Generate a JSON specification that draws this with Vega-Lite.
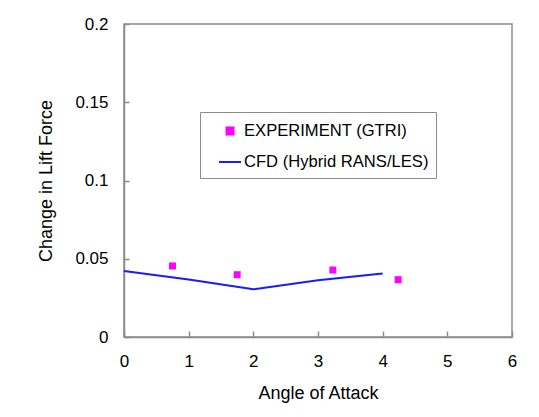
{
  "$schema": "https://vega.github.io/schema/vega-lite/v6.json",
  "width": 388,
  "height": 313,
  "autosize": {"type": "none"},
  "padding": {"left": 124, "top": 24, "right": 27, "bottom": 80},
  "background": "white",
  "config": {
    "font": "Liberation Sans",
    "view": {"stroke": "#8c8c8c", "strokeWidth": 1.5},
    "axis": {
      "grid": false,
      "domainColor": "#8c8c8c",
      "domainWidth": 1.5,
      "tickColor": "#8c8c8c",
      "tickWidth": 1.5,
      "labelColor": "black",
      "titleColor": "black",
      "labelFont": "Liberation Sans",
      "titleFont": "Liberation Sans",
      "labelFontSize": 17,
      "titleFontSize": 18,
      "titleFontWeight": "normal",
      "labelFlush": false
    }
  },
  "datasets": {
    "exp": [
      {"angle": 0.75, "lift": 0.0454, "series": "EXPERIMENT (GTRI)"},
      {"angle": 1.75, "lift": 0.0398, "series": "EXPERIMENT (GTRI)"},
      {"angle": 3.23, "lift": 0.0428, "series": "EXPERIMENT (GTRI)"},
      {"angle": 4.24, "lift": 0.0366, "series": "EXPERIMENT (GTRI)"}
    ],
    "cfd": [
      {"angle": 0, "lift": 0.0422, "series": "CFD (Hybrid RANS/LES)"},
      {"angle": 1, "lift": 0.0368, "series": "CFD (Hybrid RANS/LES)"},
      {"angle": 2, "lift": 0.0305, "series": "CFD (Hybrid RANS/LES)"},
      {"angle": 3, "lift": 0.0362, "series": "CFD (Hybrid RANS/LES)"},
      {"angle": 4, "lift": 0.0405, "series": "CFD (Hybrid RANS/LES)"}
    ]
  },
  "encoding": {
    "x": {
      "field": "angle",
      "type": "quantitative",
      "scale": {"domain": [0, 6], "nice": false},
      "axis": {
        "title": "Angle of Attack",
        "values": [0, 1, 2, 3, 4, 5, 6],
        "tickSize": -6,
        "labelPadding": 22,
        "titlePadding": 15
      }
    },
    "y": {
      "field": "lift",
      "type": "quantitative",
      "scale": {"domain": [0, 0.2], "nice": false},
      "axis": {
        "title": "Change in  Lift Force",
        "values": [0, 0.05, 0.1, 0.15, 0.2],
        "format": "~g",
        "tickSize": -5,
        "labelPadding": 21,
        "titlePadding": 19
      }
    },
    "color": {
      "field": "series",
      "type": "nominal",
      "scale": {
        "domain": ["EXPERIMENT (GTRI)", "CFD (Hybrid RANS/LES)"],
        "range": ["#ff00ff", "#1a1aff"]
      },
      "legend": {
        "title": null,
        "orient": "none",
        "legendX": 76,
        "legendY": 88,
        "padding": 7,
        "symbolOffset": 11,
        "symbolSize": 484,
        "labelOffset": 2,
        "rowPadding": 10,
        "labelFontSize": 16.6,
        "labelLimit": 400,
        "labelFont": "Liberation Sans",
        "labelColor": "black",
        "fillColor": "white",
        "strokeColor": "#8c8c8c",
        "encode": {
          "symbols": {
            "update": {
              "shape": {"signal": "datum.value === 'EXPERIMENT (GTRI)' ? 'square' : 'stroke'"},
              "size": {"signal": "datum.value === 'EXPERIMENT (GTRI)' ? 49 : 484"},
              "fill": {"signal": "datum.value === 'EXPERIMENT (GTRI)' ? '#ff00ff' : 'transparent'"},
              "stroke": {"signal": "datum.value === 'EXPERIMENT (GTRI)' ? 'transparent' : '#1a1aff'"},
              "strokeWidth": {"value": 2},
              "opacity": {"value": 1},
              "fillOpacity": {"value": 1},
              "strokeOpacity": {"value": 1}
            }
          }
        }
      }
    }
  },
  "layer": [
    {
      "data": {"name": "cfd"},
      "mark": {"type": "line", "strokeWidth": 2}
    },
    {
      "data": {"name": "exp"},
      "mark": {"type": "square", "size": 49, "filled": true, "opacity": 1}
    }
  ]
}
